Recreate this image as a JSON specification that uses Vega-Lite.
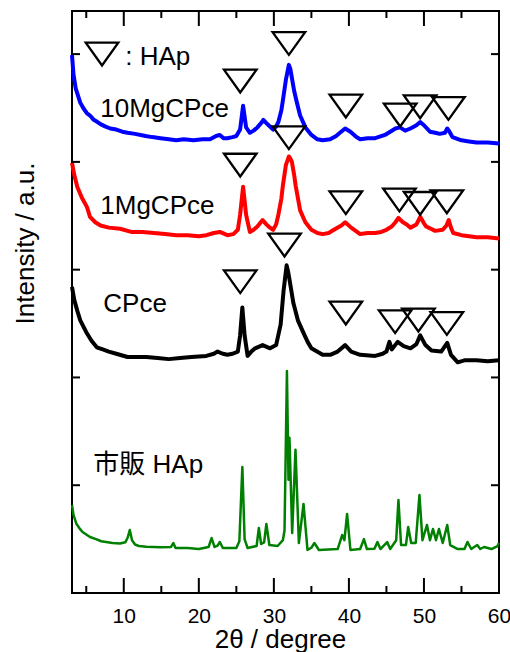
{
  "$schema": "https://vega.github.io/schema/vega-lite/v6.json",
  "width": 427,
  "height": 582,
  "autosize": {"type": "none"},
  "padding": {"left": 72, "top": 11, "right": 11, "bottom": 59},
  "background": "white",
  "config": {
    "view": {"stroke": "black", "strokeWidth": 2},
    "axis": {"grid": false, "domain": false, "ticks": false, "labelColor": "black", "titleColor": "black", "labelFont": "Liberation Sans", "titleFont": "Liberation Sans", "titleFontWeight": "normal"}
  },
  "datasets": {
    "traces": [
      {"s":"10MgCPce","x":3.1,"y":4.99},{"s":"10MgCPce","x":3.3,"y":4.81},{"s":"10MgCPce","x":3.6,"y":4.68},{"s":"10MgCPce","x":4.2,"y":4.55},{"s":"10MgCPce","x":4.6,"y":4.5},{"s":"10MgCPce","x":5.1,"y":4.45},{"s":"10MgCPce","x":5.5,"y":4.43},{"s":"10MgCPce","x":6.0,"y":4.39},{"s":"10MgCPce","x":6.5,"y":4.37},{"s":"10MgCPce","x":6.9,"y":4.35},{"s":"10MgCPce","x":7.5,"y":4.33},{"s":"10MgCPce","x":8.2,"y":4.31},{"s":"10MgCPce","x":9,"y":4.3},{"s":"10MgCPce","x":9.8,"y":4.28},{"s":"10MgCPce","x":10.5,"y":4.27},{"s":"10MgCPce","x":11.5,"y":4.26},{"s":"10MgCPce","x":12.9,"y":4.24},{"s":"10MgCPce","x":13.8,"y":4.23},{"s":"10MgCPce","x":14.9,"y":4.22},{"s":"10MgCPce","x":16,"y":4.21},{"s":"10MgCPce","x":17,"y":4.2},{"s":"10MgCPce","x":18,"y":4.21},{"s":"10MgCPce","x":19.3,"y":4.2},{"s":"10MgCPce","x":20.5,"y":4.21},{"s":"10MgCPce","x":21.5,"y":4.21},{"s":"10MgCPce","x":22.3,"y":4.24},{"s":"10MgCPce","x":22.8,"y":4.25},{"s":"10MgCPce","x":23.3,"y":4.22},{"s":"10MgCPce","x":23.8,"y":4.22},{"s":"10MgCPce","x":24.5,"y":4.23},{"s":"10MgCPce","x":25.0,"y":4.24},{"s":"10MgCPce","x":25.5,"y":4.3},{"s":"10MgCPce","x":25.9,"y":4.52},{"s":"10MgCPce","x":26.3,"y":4.32},{"s":"10MgCPce","x":26.8,"y":4.27},{"s":"10MgCPce","x":27.3,"y":4.29},{"s":"10MgCPce","x":27.8,"y":4.32},{"s":"10MgCPce","x":28.3,"y":4.36},{"s":"10MgCPce","x":28.6,"y":4.39},{"s":"10MgCPce","x":29.0,"y":4.36},{"s":"10MgCPce","x":29.3,"y":4.34},{"s":"10MgCPce","x":29.9,"y":4.3},{"s":"10MgCPce","x":30.3,"y":4.33},{"s":"10MgCPce","x":30.6,"y":4.37},{"s":"10MgCPce","x":31.0,"y":4.48},{"s":"10MgCPce","x":31.2,"y":4.57},{"s":"10MgCPce","x":31.6,"y":4.76},{"s":"10MgCPce","x":32.0,"y":4.9},{"s":"10MgCPce","x":32.2,"y":4.86},{"s":"10MgCPce","x":32.4,"y":4.78},{"s":"10MgCPce","x":32.7,"y":4.66},{"s":"10MgCPce","x":33.0,"y":4.57},{"s":"10MgCPce","x":33.5,"y":4.43},{"s":"10MgCPce","x":34.2,"y":4.32},{"s":"10MgCPce","x":35.0,"y":4.25},{"s":"10MgCPce","x":35.8,"y":4.21},{"s":"10MgCPce","x":36.5,"y":4.2},{"s":"10MgCPce","x":37.5,"y":4.21},{"s":"10MgCPce","x":38.3,"y":4.24},{"s":"10MgCPce","x":38.8,"y":4.27},{"s":"10MgCPce","x":39.5,"y":4.31},{"s":"10MgCPce","x":40.2,"y":4.28},{"s":"10MgCPce","x":41.0,"y":4.23},{"s":"10MgCPce","x":41.5,"y":4.21},{"s":"10MgCPce","x":42.5,"y":4.22},{"s":"10MgCPce","x":43.5,"y":4.22},{"s":"10MgCPce","x":44.8,"y":4.25},{"s":"10MgCPce","x":45.5,"y":4.28},{"s":"10MgCPce","x":46.2,"y":4.31},{"s":"10MgCPce","x":46.8,"y":4.32},{"s":"10MgCPce","x":47.5,"y":4.29},{"s":"10MgCPce","x":48.2,"y":4.31},{"s":"10MgCPce","x":49.0,"y":4.34},{"s":"10MgCPce","x":49.5,"y":4.37},{"s":"10MgCPce","x":50.0,"y":4.34},{"s":"10MgCPce","x":50.8,"y":4.28},{"s":"10MgCPce","x":51.5,"y":4.27},{"s":"10MgCPce","x":52.1,"y":4.26},{"s":"10MgCPce","x":52.8,"y":4.27},{"s":"10MgCPce","x":53.1,"y":4.31},{"s":"10MgCPce","x":53.4,"y":4.28},{"s":"10MgCPce","x":53.8,"y":4.23},{"s":"10MgCPce","x":55,"y":4.2},{"s":"10MgCPce","x":56,"y":4.19},{"s":"10MgCPce","x":57,"y":4.18},{"s":"10MgCPce","x":58.5,"y":4.18},{"s":"10MgCPce","x":60,"y":4.17},
      {"s":"1MgCPce","x":3.1,"y":3.99},{"s":"1MgCPce","x":3.4,"y":3.88},{"s":"1MgCPce","x":3.8,"y":3.77},{"s":"1MgCPce","x":4.4,"y":3.67},{"s":"1MgCPce","x":5.1,"y":3.58},{"s":"1MgCPce","x":5.5,"y":3.49},{"s":"1MgCPce","x":6.2,"y":3.44},{"s":"1MgCPce","x":6.9,"y":3.41},{"s":"1MgCPce","x":8,"y":3.39},{"s":"1MgCPce","x":9.5,"y":3.38},{"s":"1MgCPce","x":11,"y":3.35},{"s":"1MgCPce","x":12.5,"y":3.35},{"s":"1MgCPce","x":14,"y":3.34},{"s":"1MgCPce","x":15.5,"y":3.33},{"s":"1MgCPce","x":17,"y":3.32},{"s":"1MgCPce","x":18.5,"y":3.32},{"s":"1MgCPce","x":20,"y":3.31},{"s":"1MgCPce","x":21,"y":3.32},{"s":"1MgCPce","x":22,"y":3.34},{"s":"1MgCPce","x":22.8,"y":3.35},{"s":"1MgCPce","x":23.8,"y":3.32},{"s":"1MgCPce","x":24.6,"y":3.33},{"s":"1MgCPce","x":25.2,"y":3.37},{"s":"1MgCPce","x":25.5,"y":3.51},{"s":"1MgCPce","x":25.9,"y":3.77},{"s":"1MgCPce","x":26.3,"y":3.51},{"s":"1MgCPce","x":26.8,"y":3.35},{"s":"1MgCPce","x":27.3,"y":3.37},{"s":"1MgCPce","x":27.8,"y":3.4},{"s":"1MgCPce","x":28.5,"y":3.46},{"s":"1MgCPce","x":29.0,"y":3.42},{"s":"1MgCPce","x":29.3,"y":3.4},{"s":"1MgCPce","x":29.9,"y":3.37},{"s":"1MgCPce","x":30.3,"y":3.42},{"s":"1MgCPce","x":30.6,"y":3.51},{"s":"1MgCPce","x":31.0,"y":3.66},{"s":"1MgCPce","x":31.2,"y":3.78},{"s":"1MgCPce","x":31.6,"y":3.97},{"s":"1MgCPce","x":32.0,"y":4.05},{"s":"1MgCPce","x":32.2,"y":4.03},{"s":"1MgCPce","x":32.4,"y":4.0},{"s":"1MgCPce","x":32.7,"y":3.88},{"s":"1MgCPce","x":32.9,"y":3.78},{"s":"1MgCPce","x":33.5,"y":3.55},{"s":"1MgCPce","x":34.2,"y":3.44},{"s":"1MgCPce","x":35,"y":3.37},{"s":"1MgCPce","x":35.8,"y":3.34},{"s":"1MgCPce","x":36.5,"y":3.33},{"s":"1MgCPce","x":37.3,"y":3.34},{"s":"1MgCPce","x":38,"y":3.37},{"s":"1MgCPce","x":39.0,"y":3.41},{"s":"1MgCPce","x":39.5,"y":3.44},{"s":"1MgCPce","x":40.3,"y":3.39},{"s":"1MgCPce","x":41.5,"y":3.33},{"s":"1MgCPce","x":42.5,"y":3.34},{"s":"1MgCPce","x":43.5,"y":3.34},{"s":"1MgCPce","x":44.3,"y":3.35},{"s":"1MgCPce","x":45,"y":3.37},{"s":"1MgCPce","x":45.7,"y":3.4},{"s":"1MgCPce","x":46.2,"y":3.44},{"s":"1MgCPce","x":46.6,"y":3.48},{"s":"1MgCPce","x":47.2,"y":3.44},{"s":"1MgCPce","x":47.7,"y":3.42},{"s":"1MgCPce","x":48.2,"y":3.39},{"s":"1MgCPce","x":49.0,"y":3.42},{"s":"1MgCPce","x":49.5,"y":3.49},{"s":"1MgCPce","x":50.0,"y":3.43},{"s":"1MgCPce","x":50.3,"y":3.4},{"s":"1MgCPce","x":51.5,"y":3.36},{"s":"1MgCPce","x":52.5,"y":3.37},{"s":"1MgCPce","x":53.0,"y":3.41},{"s":"1MgCPce","x":53.3,"y":3.46},{"s":"1MgCPce","x":53.6,"y":3.39},{"s":"1MgCPce","x":53.9,"y":3.34},{"s":"1MgCPce","x":55,"y":3.32},{"s":"1MgCPce","x":56,"y":3.31},{"s":"1MgCPce","x":57,"y":3.3},{"s":"1MgCPce","x":58.5,"y":3.3},{"s":"1MgCPce","x":60,"y":3.29},
      {"s":"CPce","x":3.1,"y":2.84},{"s":"CPce","x":3.4,"y":2.72},{"s":"CPce","x":3.8,"y":2.62},{"s":"CPce","x":4.2,"y":2.53},{"s":"CPce","x":5.0,"y":2.42},{"s":"CPce","x":5.7,"y":2.34},{"s":"CPce","x":6.4,"y":2.28},{"s":"CPce","x":7.2,"y":2.26},{"s":"CPce","x":8,"y":2.24},{"s":"CPce","x":9,"y":2.22},{"s":"CPce","x":10.5,"y":2.19},{"s":"CPce","x":12,"y":2.19},{"s":"CPce","x":13,"y":2.19},{"s":"CPce","x":14.5,"y":2.18},{"s":"CPce","x":16,"y":2.17},{"s":"CPce","x":17.5,"y":2.18},{"s":"CPce","x":19,"y":2.19},{"s":"CPce","x":21,"y":2.2},{"s":"CPce","x":22,"y":2.22},{"s":"CPce","x":22.5,"y":2.24},{"s":"CPce","x":23.2,"y":2.22},{"s":"CPce","x":23.8,"y":2.21},{"s":"CPce","x":24.5,"y":2.22},{"s":"CPce","x":25.2,"y":2.24},{"s":"CPce","x":25.5,"y":2.39},{"s":"CPce","x":25.8,"y":2.65},{"s":"CPce","x":26.1,"y":2.39},{"s":"CPce","x":26.5,"y":2.2},{"s":"CPce","x":27.0,"y":2.24},{"s":"CPce","x":27.5,"y":2.27},{"s":"CPce","x":28.5,"y":2.3},{"s":"CPce","x":29.5,"y":2.27},{"s":"CPce","x":30.3,"y":2.3},{"s":"CPce","x":30.9,"y":2.49},{"s":"CPce","x":31.3,"y":2.81},{"s":"CPce","x":31.7,"y":3.04},{"s":"CPce","x":31.9,"y":2.98},{"s":"CPce","x":32.1,"y":2.9},{"s":"CPce","x":32.6,"y":2.69},{"s":"CPce","x":33.2,"y":2.53},{"s":"CPce","x":33.9,"y":2.42},{"s":"CPce","x":34.5,"y":2.33},{"s":"CPce","x":35,"y":2.27},{"s":"CPce","x":36.5,"y":2.21},{"s":"CPce","x":37.5,"y":2.21},{"s":"CPce","x":38.5,"y":2.24},{"s":"CPce","x":39.5,"y":2.3},{"s":"CPce","x":40.3,"y":2.24},{"s":"CPce","x":41.5,"y":2.21},{"s":"CPce","x":43.5,"y":2.2},{"s":"CPce","x":44.5,"y":2.22},{"s":"CPce","x":45,"y":2.24},{"s":"CPce","x":45.4,"y":2.33},{"s":"CPce","x":45.7,"y":2.26},{"s":"CPce","x":46.5,"y":2.33},{"s":"CPce","x":47.3,"y":2.29},{"s":"CPce","x":48.2,"y":2.27},{"s":"CPce","x":49.0,"y":2.31},{"s":"CPce","x":49.5,"y":2.39},{"s":"CPce","x":50.2,"y":2.3},{"s":"CPce","x":51,"y":2.25},{"s":"CPce","x":52.3,"y":2.24},{"s":"CPce","x":53.1,"y":2.32},{"s":"CPce","x":53.6,"y":2.21},{"s":"CPce","x":54.5,"y":2.14},{"s":"CPce","x":55.5,"y":2.16},{"s":"CPce","x":57,"y":2.16},{"s":"CPce","x":58.5,"y":2.15},{"s":"CPce","x":60,"y":2.16}
    ],
    "green": [
      {"x":3.1,"y":0.816},{"x":3.3,"y":0.724},{"x":3.7,"y":0.64},{"x":4.1,"y":0.6},{"x":4.5,"y":0.566},{"x":5.5,"y":0.52},{"x":6.3,"y":0.5},{"x":7,"y":0.48},{"x":8.5,"y":0.464},{"x":9.5,"y":0.46},{"x":10.2,"y":0.47},{"x":10.5,"y":0.51},{"x":10.8,"y":0.584},{"x":11.1,"y":0.49},{"x":11.5,"y":0.45},{"x":12,"y":0.436},{"x":13,"y":0.43},{"x":14,"y":0.427},{"x":15,"y":0.425},{"x":16.3,"y":0.427},{"x":16.6,"y":0.464},{"x":16.9,"y":0.417},{"x":18.5,"y":0.417},{"x":20,"y":0.408},{"x":21.3,"y":0.427},{"x":21.7,"y":0.51},{"x":22.1,"y":0.427},{"x":22.5,"y":0.44},{"x":22.8,"y":0.473},{"x":23.2,"y":0.417},{"x":25.0,"y":0.417},{"x":25.4,"y":0.48},{"x":25.8,"y":1.169},{"x":26.1,"y":0.5},{"x":26.5,"y":0.417},{"x":27.7,"y":0.436},{"x":28.0,"y":0.603},{"x":28.3,"y":0.455},{"x":28.7,"y":0.47},{"x":29.0,"y":0.64},{"x":29.4,"y":0.445},{"x":30.5,"y":0.436},{"x":31.2,"y":0.49},{"x":31.42,"y":0.58},{"x":31.74,"y":2.06},{"x":31.95,"y":1.05},{"x":32.08,"y":1.44},{"x":32.44,"y":0.557},{"x":32.88,"y":1.33},{"x":33.33,"y":0.464},{"x":33.95,"y":0.826},{"x":34.48,"y":0.4},{"x":35.0,"y":0.42},{"x":35.4,"y":0.464},{"x":36,"y":0.399},{"x":38.5,"y":0.408},{"x":39.1,"y":0.538},{"x":39.4,"y":0.49},{"x":39.76,"y":0.733},{"x":40.2,"y":0.399},{"x":41.5,"y":0.408},{"x":42.0,"y":0.5},{"x":42.4,"y":0.408},{"x":43.4,"y":0.41},{"x":43.8,"y":0.473},{"x":44.2,"y":0.408},{"x":45.1,"y":0.473},{"x":45.5,"y":0.408},{"x":46.3,"y":0.49},{"x":46.6,"y":0.863},{"x":46.95,"y":0.445},{"x":47.6,"y":0.445},{"x":47.9,"y":0.612},{"x":48.3,"y":0.464},{"x":48.9,"y":0.464},{"x":49.4,"y":0.909},{"x":49.8,"y":0.49},{"x":50.4,"y":0.631},{"x":50.8,"y":0.49},{"x":51.2,"y":0.594},{"x":51.6,"y":0.49},{"x":52.0,"y":0.594},{"x":52.5,"y":0.464},{"x":53.1,"y":0.631},{"x":53.5,"y":0.445},{"x":54.5,"y":0.408},{"x":55.4,"y":0.408},{"x":55.8,"y":0.473},{"x":56.3,"y":0.408},{"x":57.1,"y":0.445},{"x":57.5,"y":0.408},{"x":58,"y":0.427},{"x":59,"y":0.408},{"x":59.8,"y":0.436},{"x":60,"y":0.464}
    ],
    "tri": [
      {"x":7.1,"y":5.0},
      {"x":25.52,"y":4.75},{"x":32.0,"y":5.099},{"x":39.59,"y":4.518},{"x":46.83,"y":4.435},{"x":49.49,"y":4.511},{"x":53.26,"y":4.496},
      {"x":25.52,"y":3.97},{"x":32.0,"y":4.224},{"x":39.59,"y":3.621},{"x":46.73,"y":3.647},{"x":49.49,"y":3.615},{"x":53.05,"y":3.63},
      {"x":25.52,"y":2.888},{"x":31.42,"y":3.228},{"x":39.59,"y":2.597},{"x":46.16,"y":2.517},{"x":49.26,"y":2.532},{"x":53.05,"y":2.501}
    ],
    "labels": [
      {"x":6.87,"y":4.416,"t":"10MgCPce"},
      {"x":6.87,"y":3.516,"t":"1MgCPce"},
      {"x":7.27,"y":2.607,"t":"CPce"},
      {"x":5.94,"y":1.113,"t":"市販 HAp"},
      {"x":10.2,"y":4.898,"t":": HAp"}
    ],
    "xmajor": [{"v":10},{"v":20},{"v":30},{"v":40},{"v":50},{"v":60}],
    "xminor": [{"v":5},{"v":15},{"v":25},{"v":35},{"v":45},{"v":55}],
    "yticks": [{"v":1},{"v":2},{"v":3},{"v":4},{"v":5}]
  },
  "layer": [
    {
      "data": {"name": "traces"},
      "mark": {"type": "line", "strokeWidth": 4, "strokeJoin": "round"},
      "encoding": {
        "x": {"field": "x", "type": "quantitative", "scale": {"domain": [3.1, 60], "nice": false, "zero": false},
              "axis": {"orient": "bottom", "values": [10,20,30,40,50,60], "ticks": false, "labelFontSize": 21, "labelPadding": 12, "labelFlush": false, "labelOverlap": false, "title": "2θ / degree", "titleFontSize": 26, "titleBaseline": "alphabetic", "titleX": 208, "titleY": 54, "titleAnchor": "middle", "titleAlign": "center"}},
        "y": {"field": "y", "type": "quantitative", "scale": {"domain": [0, 5.4], "nice": false, "zero": false},
              "axis": {"orient": "left", "values": [1,2,3,4,5], "ticks": false, "labels": false, "title": "Intensity / a.u.", "titleFontSize": 26, "titleAngle": -90, "titleBaseline": "alphabetic", "titleX": -39, "titleY": 232, "titleAlign": "center"}},
        "color": {"field": "s", "type": "nominal", "scale": {"domain": ["10MgCPce","1MgCPce","CPce"], "range": ["#0000ff","#ff0000","#000000"]}, "legend": null}
      }
    },
    {
      "data": {"name": "green"},
      "mark": {"type": "line", "strokeWidth": 2.5, "color": "#008000", "strokeJoin": "round"},
      "encoding": {
        "x": {"field": "x", "type": "quantitative"},
        "y": {"field": "y", "type": "quantitative"}
      }
    },
    {
      "data": {"name": "tri"},
      "mark": {"type": "point", "shape": "M-1,-0.7L1,-0.7L0,0.7Z", "filled": false, "stroke": "black", "strokeWidth": 2.3, "size": 1060, "opacity": 1},
      "encoding": {
        "x": {"field": "x", "type": "quantitative"},
        "y": {"field": "y", "type": "quantitative"}
      }
    },
    {
      "data": {"name": "labels"},
      "mark": {"type": "text", "align": "left", "baseline": "alphabetic", "font": "Liberation Sans, Noto Sans CJK JP", "fontSize": 26, "color": "black"},
      "encoding": {
        "x": {"field": "x", "type": "quantitative"},
        "y": {"field": "y", "type": "quantitative"},
        "text": {"field": "t"}
      }
    },
    {
      "data": {"name": "xmajor"},
      "mark": {"type": "rule", "strokeWidth": 2, "color": "black"},
      "encoding": {"x": {"field": "v", "type": "quantitative"}, "y": {"datum": 0}, "y2": {"datum": 0.139}}
    },
    {
      "data": {"name": "xmajor"},
      "mark": {"type": "rule", "strokeWidth": 2, "color": "black"},
      "encoding": {"x": {"field": "v", "type": "quantitative"}, "y": {"datum": 5.4}, "y2": {"datum": 5.261}}
    },
    {
      "data": {"name": "xminor"},
      "mark": {"type": "rule", "strokeWidth": 2, "color": "black"},
      "encoding": {"x": {"field": "v", "type": "quantitative"}, "y": {"datum": 0}, "y2": {"datum": 0.065}}
    },
    {
      "data": {"name": "xminor"},
      "mark": {"type": "rule", "strokeWidth": 2, "color": "black"},
      "encoding": {"x": {"field": "v", "type": "quantitative"}, "y": {"datum": 5.4}, "y2": {"datum": 5.335}}
    },
    {
      "data": {"name": "yticks"},
      "mark": {"type": "rule", "strokeWidth": 2, "color": "black"},
      "encoding": {"y": {"field": "v", "type": "quantitative"}, "x": {"datum": 3.1}, "x2": {"datum": 4.17}}
    },
    {
      "data": {"name": "yticks"},
      "mark": {"type": "rule", "strokeWidth": 2, "color": "black"},
      "encoding": {"y": {"field": "v", "type": "quantitative"}, "x": {"datum": 60}, "x2": {"datum": 58.93}}
    }
  ]
}
